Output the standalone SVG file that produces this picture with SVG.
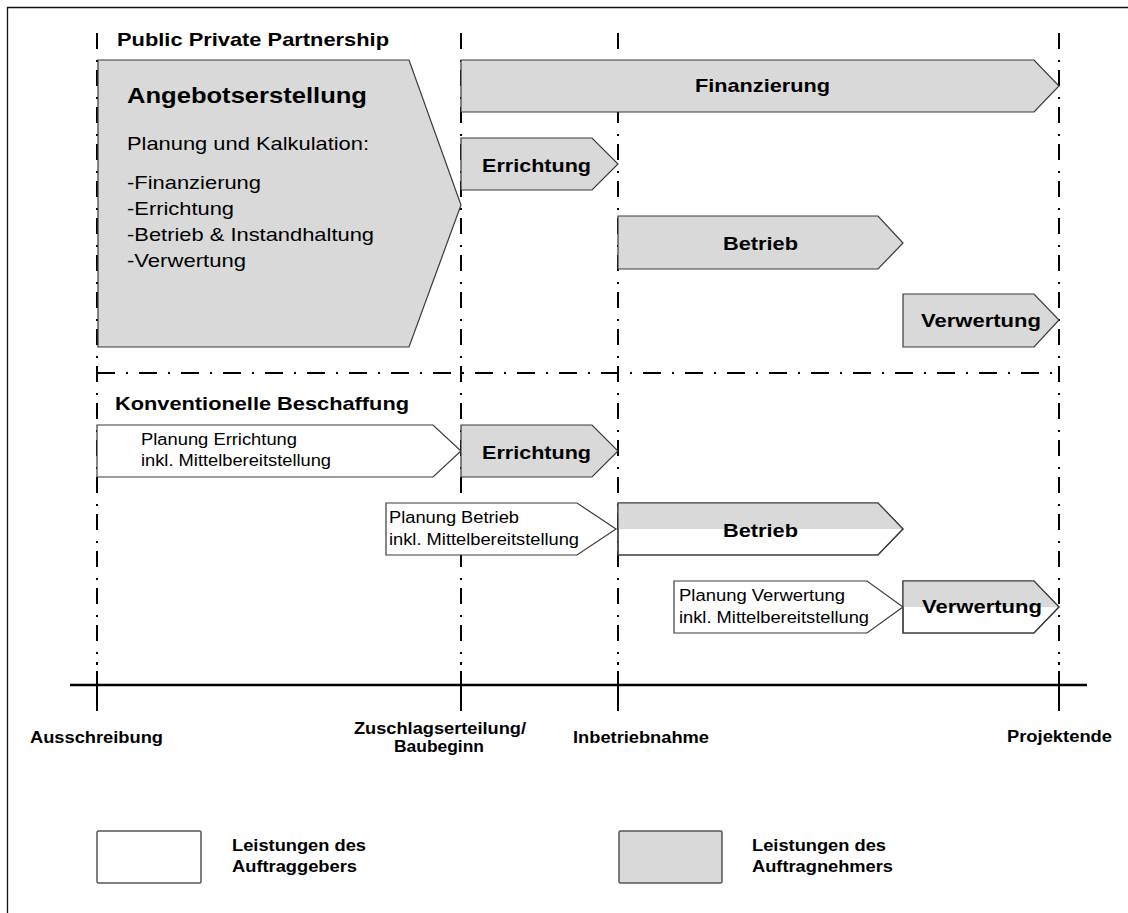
<svg xmlns="http://www.w3.org/2000/svg" width="1128" height="913" viewBox="0 0 1128 913">
<style>
.t{font-family:"Liberation Sans",Arial,sans-serif;fill:#000}
.b{font-weight:bold}
.guide{stroke:#000;stroke-width:2;fill:none;stroke-dasharray:16 11 2 8}
.hguide{stroke:#000;stroke-width:2;fill:none;stroke-dasharray:18 11 2 11}
.gray{fill:#d9d9d9;stroke:#3a3a3a;stroke-width:1.2}
.white{fill:#fff;stroke:#3a3a3a;stroke-width:1.2}
.outline{fill:none;stroke:#3a3a3a;stroke-width:1.2}
.half{fill:#d9d9d9;stroke:none}
.axis{stroke:#000;stroke-width:2.5}
.tick{stroke:#000;stroke-width:2}
</style>
<rect width="1128" height="913" fill="#fff"/>
<path d="M7.5 913 V7.5 H1128" fill="none" stroke="#111" stroke-width="1.3"/>

<g id="connectors">
  <line class="guide" x1="97" y1="33" x2="97" y2="665"/>
  <line class="guide" x1="461" y1="33" x2="461" y2="665"/>
  <line class="guide" x1="618" y1="33" x2="618" y2="665"/>
  <line class="guide" x1="1059" y1="33" x2="1059" y2="665"/>
  <line class="hguide" x1="97" y1="373" x2="1059" y2="373"/>
  <line class="axis" x1="70" y1="685" x2="1087" y2="685"/>
  <line class="tick" x1="97" y1="671" x2="97" y2="711"/>
  <line class="tick" x1="461" y1="671" x2="461" y2="711"/>
  <line class="tick" x1="618" y1="671" x2="618" y2="711"/>
  <line class="tick" x1="1059" y1="671" x2="1059" y2="711"/>
</g>

<g id="title-ppp">
  <text class="t b" x="117" y="46" font-size="19" textLength="272" lengthAdjust="spacingAndGlyphs">Public Private Partnership</text>
</g>

<g id="angebotserstellung">
  <polygon class="gray" points="98,60 409,60 461,205 409,347 98,347"/>
  <text class="t b" x="127" y="103" font-size="22.5" textLength="240" lengthAdjust="spacingAndGlyphs">Angebotserstellung</text>
  <text class="t" x="127" y="150" font-size="19" textLength="242" lengthAdjust="spacingAndGlyphs">Planung und Kalkulation:</text>
  <text class="t" x="127" y="189" font-size="19" textLength="134" lengthAdjust="spacingAndGlyphs">-Finanzierung</text>
  <text class="t" x="127" y="215" font-size="19" textLength="107" lengthAdjust="spacingAndGlyphs">-Errichtung</text>
  <text class="t" x="127" y="241" font-size="19" textLength="247" lengthAdjust="spacingAndGlyphs">-Betrieb &amp; Instandhaltung</text>
  <text class="t" x="127" y="267" font-size="19" textLength="119" lengthAdjust="spacingAndGlyphs">-Verwertung</text>
</g>

<g id="ppp-finanzierung">
  <polygon class="gray" points="461,60 1034,60 1059,86 1034,112 461,112"/>
  <text class="t b" x="695" y="92" font-size="19" textLength="135" lengthAdjust="spacingAndGlyphs">Finanzierung</text>
</g>

<g id="ppp-errichtung">
  <polygon class="gray" points="461,138 592,138 618,164 592,190 461,190"/>
  <text class="t b" x="482" y="172" font-size="19" textLength="109" lengthAdjust="spacingAndGlyphs">Errichtung</text>
</g>

<g id="ppp-betrieb">
  <polygon class="gray" points="618,216 878,216 903,243 878,269 618,269"/>
  <text class="t b" x="723" y="250" font-size="19" textLength="75" lengthAdjust="spacingAndGlyphs">Betrieb</text>
</g>

<g id="ppp-verwertung">
  <polygon class="gray" points="903,294 1034,294 1059,320 1034,347 903,347"/>
  <text class="t b" x="921" y="327" font-size="19" textLength="120" lengthAdjust="spacingAndGlyphs">Verwertung</text>
</g>

<g id="title-konv">
  <text class="t b" x="115" y="410" font-size="19" textLength="294" lengthAdjust="spacingAndGlyphs">Konventionelle Beschaffung</text>
</g>

<g id="konv-planung-errichtung">
  <polygon class="white" points="97,425 433,425 461,451 433,477 97,477"/>
  <text class="t" x="141" y="445" font-size="16" textLength="156" lengthAdjust="spacingAndGlyphs">Planung Errichtung</text>
  <text class="t" x="141" y="466" font-size="16" textLength="190" lengthAdjust="spacingAndGlyphs">inkl. Mittelbereitstellung</text>
</g>

<g id="konv-errichtung">
  <polygon class="gray" points="461,425 592,425 618,451 592,477 461,477"/>
  <text class="t b" x="482" y="459" font-size="19" textLength="109" lengthAdjust="spacingAndGlyphs">Errichtung</text>
</g>

<g id="konv-planung-betrieb">
  <polygon class="white" points="386,503 577,503 616,529 577,555 386,555"/>
  <text class="t" x="389" y="523" font-size="16" textLength="130" lengthAdjust="spacingAndGlyphs">Planung Betrieb</text>
  <text class="t" x="389" y="545" font-size="16" textLength="190" lengthAdjust="spacingAndGlyphs">inkl. Mittelbereitstellung</text>
</g>

<g id="konv-betrieb">
  <polygon class="white" points="618,503 878,503 903,529 878,555 618,555"/>
  <polygon class="half" points="618,503 878,503 903,529 618,529"/>
  <polygon class="outline" points="618,503 878,503 903,529 878,555 618,555"/>
  <text class="t b" x="723" y="537" font-size="19" textLength="75" lengthAdjust="spacingAndGlyphs">Betrieb</text>
</g>

<g id="konv-planung-verwertung">
  <polygon class="white" points="674,581 867,581 903,607 867,633 674,633"/>
  <text class="t" x="679" y="601" font-size="16" textLength="166" lengthAdjust="spacingAndGlyphs">Planung Verwertung</text>
  <text class="t" x="679" y="623" font-size="16" textLength="190" lengthAdjust="spacingAndGlyphs">inkl. Mittelbereitstellung</text>
</g>

<g id="konv-verwertung">
  <polygon class="white" points="903,581 1034,581 1059,607 1034,633 903,633"/>
  <polygon class="half" points="903,581 1034,581 1059,607 903,607"/>
  <polygon class="outline" points="903,581 1034,581 1059,607 1034,633 903,633"/>
  <text class="t b" x="922" y="613" font-size="19" textLength="120" lengthAdjust="spacingAndGlyphs">Verwertung</text>
</g>

<g id="milestone-ausschreibung">
  <text class="t b" x="30" y="743" font-size="16" textLength="133" lengthAdjust="spacingAndGlyphs">Ausschreibung</text>
</g>
<g id="milestone-zuschlag">
  <text class="t b" x="354" y="734" font-size="16" textLength="172" lengthAdjust="spacingAndGlyphs">Zuschlagserteilung/</text>
  <text class="t b" x="394" y="752" font-size="16" textLength="90" lengthAdjust="spacingAndGlyphs">Baubeginn</text>
</g>
<g id="milestone-inbetriebnahme">
  <text class="t b" x="573" y="743" font-size="16" textLength="136" lengthAdjust="spacingAndGlyphs">Inbetriebnahme</text>
</g>
<g id="milestone-projektende">
  <text class="t b" x="1007" y="742" font-size="16" textLength="105" lengthAdjust="spacingAndGlyphs">Projektende</text>
</g>

<g id="legend-auftraggeber">
  <rect x="97" y="831" width="104" height="52" rx="1.5" fill="#fff" stroke="#555" stroke-width="1.5"/>
  <text class="t b" x="232" y="851" font-size="16" textLength="134" lengthAdjust="spacingAndGlyphs">Leistungen des</text>
  <text class="t b" x="232" y="872" font-size="16" textLength="125" lengthAdjust="spacingAndGlyphs">Auftraggebers</text>
</g>
<g id="legend-auftragnehmer">
  <rect x="619" y="831" width="103" height="52" rx="1.5" fill="#d9d9d9" stroke="#555" stroke-width="1.5"/>
  <text class="t b" x="752" y="851" font-size="16" textLength="134" lengthAdjust="spacingAndGlyphs">Leistungen des</text>
  <text class="t b" x="752" y="872" font-size="16" textLength="141" lengthAdjust="spacingAndGlyphs">Auftragnehmers</text>
</g>
</svg>
